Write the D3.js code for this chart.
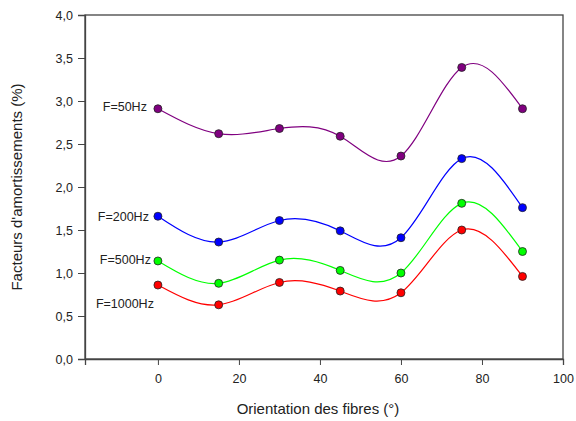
<!DOCTYPE html>
<html>
<head>
<meta charset="utf-8">
<script src="https://cdn.jsdelivr.net/npm/d3@7"></script>
<style>
  body { margin: 0; background: #fff; }
  text { font-family: "Liberation Sans", Arial, sans-serif; fill: #222; }
</style>
</head>
<body>
<div id="chart"></div>
<script>
// fibre orientation (degrees)
var angles = [0, 15, 30, 45, 60, 75, 90];

// damping factors (%) per frequency
var f50 = [2.91, 2.62, 2.68, 2.59, 2.36, 3.39, 2.91];
var f200 = [1.66, 1.36, 1.61, 1.49, 1.41, 2.33, 1.76];
var f500 = [1.14, 0.88, 1.15, 1.03, 1.00, 1.81, 1.25];
var f1000 = [0.86, 0.63, 0.89, 0.79, 0.77, 1.50, 0.96];

var seriesNames = ["F=50Hz", "F=200Hz", "F=500Hz", "F=1000Hz"];
var seriesColors = ["#800080", "#0000ff", "#00ff00", "#ff0000"];

var xTicks = [0, 20, 40, 60, 80, 100];
var yTicks = [0, 0.5, 1, 1.5, 2, 2.5, 3, 3.5, 4];

var svgWidth = 576, svgHeight = 421;
var margin = { top: 15, right: 13, bottom: 62, left: 85 };
var width = svgWidth - margin.left - margin.right;
var height = svgHeight - margin.top - margin.bottom;

var svg = d3.select("#chart").append("svg")
  .attr("width", svgWidth)
  .attr("height", svgHeight);

var g = svg.append("g")
  .attr("transform", `translate(${margin.left}, ${margin.top})`);

var x = d3.scaleLinear().domain([-18, 100]).range([0, width]);
var y = d3.scaleLinear().domain([0, 4]).range([height, 0]);

var fmt = function(d) { return d3.format(".1f")(d).replace(".", ","); };

// frame
g.append("rect")
  .attr("width", width)
  .attr("height", height)
  .attr("fill", "none")
  .attr("stroke", "#444")
  .attr("stroke-width", 1.3);

var xAxis = g.append("g")
  .attr("transform", `translate(0, ${height})`)
  .call(d3.axisBottom(x).tickValues(xTicks).tickSize(6).tickPadding(9));

var yAxis = g.append("g")
  .call(d3.axisLeft(y).tickValues(yTicks).tickFormat(fmt).tickSize(7).tickPadding(5));

[xAxis, yAxis].forEach(function(a) {
  a.select(".domain").attr("stroke", "#444").attr("stroke-width", 1.3);
  a.selectAll(".tick line").attr("stroke", "#444");
  a.selectAll(".tick text").attr("font-size", 12.5).attr("fill", "#222")
    .attr("font-family", "Liberation Sans, Arial, sans-serif");
});

var allSeries = [f50, f200, f500, f1000];

var line = d3.line()
  .x(function(d, i) { return x(angles[i]); })
  .y(function(d) { return y(d); })
  .curve(d3.curveNatural);

allSeries.forEach(function(vals, s) {
  g.append("path")
    .datum(vals)
    .attr("d", line)
    .attr("fill", "none")
    .attr("stroke", seriesColors[s])
    .attr("stroke-width", 1.2);

  g.selectAll(".pt" + s)
    .data(vals)
    .enter().append("circle")
    .attr("cx", function(d, i) { return x(angles[i]); })
    .attr("cy", function(d) { return y(d); })
    .attr("r", 4)
    .attr("fill", seriesColors[s])
    .attr("stroke", "#222")
    .attr("stroke-width", 0.8);
});

// series labels beside the first point
var labelDx = [-11, -9, -7, -4];
var labelDy = [-2, 0, -1, 19];
seriesNames.forEach(function(name, s) {
  g.append("text")
    .attr("x", x(0) + labelDx[s])
    .attr("y", y(allSeries[s][0]) + labelDy[s])
    .attr("dy", "0.35em")
    .attr("text-anchor", "end")
    .attr("font-size", 12.5)
    .text(name);
});

// axis titles
svg.append("text")
  .attr("transform", "rotate(-90)")
  .attr("x", -(margin.top + height / 2))
  .attr("y", 22)
  .attr("text-anchor", "middle")
  .attr("font-size", 15)
  .text("Facteurs d'amortissements (%)");

svg.append("text")
  .attr("x", margin.left + width / 2 - 6)
  .attr("y", 414)
  .attr("text-anchor", "middle")
  .attr("font-size", 15)
  .text("Orientation des fibres (°)");
</script>
</body>
</html>
